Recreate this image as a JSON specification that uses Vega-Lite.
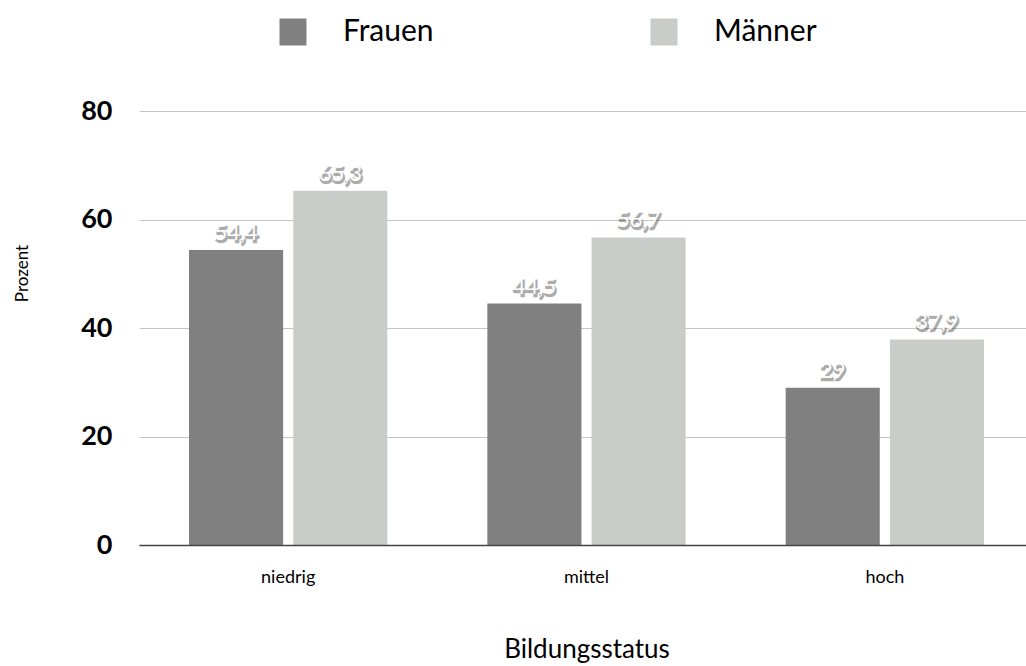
{
  "$schema": "https://vega.github.io/schema/vega-lite/v6.json",
  "autosize": "none",
  "padding": {"left": 139, "top": 111, "right": 0, "bottom": 121},
  "width": 887,
  "height": 434,
  "background": "white",
  "config": {
    "font": "Lato",
    "view": {"stroke": null},
    "locale": {"number": {"decimal": ",", "thousands": ".", "grouping": [3], "currency": ["", " €"]}}
  },
  "data": {
    "values": [
      {"Bildungsstatus": "niedrig", "Geschlecht": "Frauen", "Prozent": 54.4},
      {"Bildungsstatus": "niedrig", "Geschlecht": "Männer", "Prozent": 65.3},
      {"Bildungsstatus": "mittel", "Geschlecht": "Frauen", "Prozent": 44.5},
      {"Bildungsstatus": "mittel", "Geschlecht": "Männer", "Prozent": 56.7},
      {"Bildungsstatus": "hoch", "Geschlecht": "Frauen", "Prozent": 29},
      {"Bildungsstatus": "hoch", "Geschlecht": "Männer", "Prozent": 37.9}
    ]
  },
  "encoding": {
    "x": {
      "field": "Bildungsstatus", "type": "nominal", "sort": ["niedrig", "mittel", "hoch"],
      "scale": {"range": [0, 895], "paddingInner": 0, "paddingOuter": 0},
      "axis": {
        "title": "Bildungsstatus", "titleFontSize": 26, "titleFontWeight": "normal", "titleColor": "#000",
        "titleY": 104, "titleBaseline": "middle",
        "labelAngle": 0, "labelFontSize": 18, "labelColor": "#000", "labelPadding": 23,
        "ticks": false, "domainColor": "#444", "domainWidth": 1.5, "grid": false, "zindex": 1
      }
    },
    "xOffset": {
      "field": "Geschlecht", "type": "nominal", "sort": ["Frauen", "Männer"],
      "scale": {"paddingInner": 0.097, "paddingOuter": 0.48}
    },
    "y": {
      "field": "Prozent", "type": "quantitative",
      "scale": {"domain": [0, 80]},
      "axis": {
        "title": "Prozent", "titleFontSize": 17, "titleFontWeight": "normal", "titleColor": "#000",
        "titleX": -117, "titleY": 162, "titleAngle": -90, "titleBaseline": "middle", "titleAlign": "center",
        "values": [0, 20, 40, 60, 80], "labelFontSize": 27, "labelFontWeight": "bold", "labelColor": "#000",
        "labelPadding": 27, "ticks": false, "domain": false,
        "grid": true, "gridColor": "#c4c4c4", "gridWidth": 1
      }
    }
  },
  "layer": [
    {
      "mark": {"type": "bar"},
      "encoding": {
        "color": {
          "field": "Geschlecht", "type": "nominal", "sort": ["Frauen", "Männer"],
          "scale": {"domain": ["Frauen", "Männer"], "range": ["#808080", "#c9cdc9"]},
          "legend": {
            "title": null, "orient": "none", "legendX": 139, "legendY": -94,
            "direction": "horizontal", "columns": 2, "columnPadding": 215,
            "symbolType": "square", "symbolSize": 729, "symbolStrokeWidth": 0,
            "labelFontSize": 30, "labelColor": "#000", "labelOffset": 35, "labelLimit": 300
          }
        }
      }
    },
    {
      "mark": {"type": "text", "baseline": "alphabetic", "dx": 1, "dy": -8, "fontSize": 22, "fill": "#333", "stroke": "#333", "strokeWidth": 2.5, "opacity": 0.4},
      "encoding": {"text": {"field": "Prozent", "type": "quantitative", "format": ".3~r"}}
    },
    {
      "mark": {"type": "text", "baseline": "alphabetic", "dy": -10, "fontSize": 22, "fill": "white"},
      "encoding": {"text": {"field": "Prozent", "type": "quantitative", "format": ".3~r"}}
    }
  ]
}
